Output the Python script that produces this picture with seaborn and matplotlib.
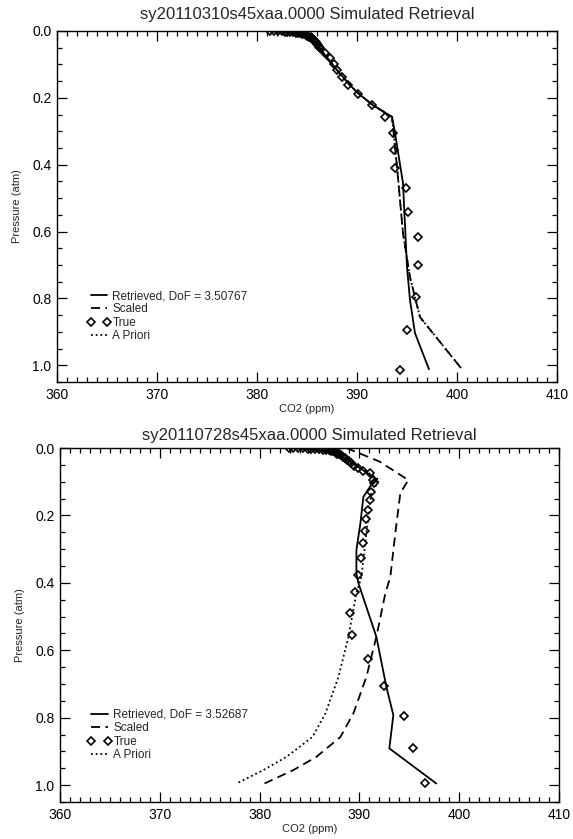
import matplotlib
matplotlib.use("Agg")
import matplotlib.pyplot as plt
import seaborn as sns
from matplotlib.lines import Line2D
from matplotlib.ticker import MultipleLocator

# ---------------- data: panel 1 (sy20110310) ----------------
title1 = "sy20110310s45xaa.0000 Simulated Retrieval"
dof1 = "3.50767"
ret1_p = [0.0, 0.003, 0.008, 0.016, 0.030, 0.057, 0.117, 0.162, 0.186, 0.222, 0.257,
          0.305, 0.455, 0.706, 0.805, 0.904, 1.012]
ret1_c = [382.2, 383.6, 384.5, 385.1, 385.6, 386.4, 388.0, 389.3, 390.1, 391.6, 393.5,
          393.8, 394.6, 395.0, 395.3, 395.8, 397.2]
scl1_p = [0.0, 0.003, 0.008, 0.016, 0.030, 0.057, 0.117, 0.162, 0.186, 0.222, 0.257,
          0.406, 0.605, 0.737, 0.856, 1.012]
scl1_c = [382.2, 383.6, 384.5, 385.1, 385.6, 386.4, 388.0, 389.3, 390.1, 391.6, 393.5,
          394.0, 394.6, 395.3, 396.3, 400.5]
apr1_p = [0.0, 0.003, 0.008, 0.016, 0.030, 0.057, 0.117, 0.162, 0.186, 0.222, 0.257,
          0.406, 0.605, 0.737, 0.856, 1.012]
apr1_c = [382.2, 383.6, 384.5, 385.1, 385.6, 386.4, 388.0, 389.3, 390.1, 391.6, 393.5,
          394.0, 394.6, 395.3, 396.3, 400.5]
tru1_p = [0.0001, 0.0003, 0.0006, 0.001, 0.0015, 0.002, 0.0027, 0.0035, 0.0045, 0.0057,
          0.007, 0.0085, 0.010, 0.012, 0.014, 0.0165, 0.019, 0.022, 0.0255, 0.029,
          0.033, 0.0375, 0.042, 0.047, 0.052, 0.067, 0.082, 0.100, 0.117, 0.137,
          0.162, 0.187, 0.222, 0.257, 0.306, 0.356, 0.411, 0.470, 0.541, 0.616,
          0.700, 0.795, 0.895, 1.015]
tru1_c = [381.3, 381.7, 382.1, 382.5, 382.8, 383.0, 383.3, 383.6, 383.9, 384.1,
          384.3, 384.5, 384.7, 384.9, 385.0, 385.2, 385.35, 385.5, 385.6, 385.75,
          385.85, 385.95, 386.05, 386.15, 386.3, 386.8, 387.3, 387.7, 388.0, 388.5,
          389.1, 390.1, 391.5, 392.8, 393.6, 393.7, 393.8, 394.9, 395.1, 396.1,
          396.1, 395.9, 395.0, 394.3]

# ---------------- data: panel 2 (sy20110728) ----------------
title2 = "sy20110728s45xaa.0000 Simulated Retrieval"
dof2 = "3.52687"
ret2_p = [0.0, 0.004, 0.010, 0.020, 0.035, 0.055, 0.090, 0.145, 0.223, 0.303, 0.372,
          0.401, 0.560, 0.708, 0.792, 0.891, 0.995]
ret2_c = [382.9, 385.0, 386.6, 387.8, 388.8, 389.8, 391.6, 390.4, 390.1, 389.7, 389.7,
          389.9, 391.7, 392.7, 393.4, 393.0, 397.7]
scl2_p = [0.0, 0.040, 0.095, 0.134, 0.252, 0.382, 0.431, 0.560, 0.679, 0.787, 0.857,
          0.916, 0.955, 0.995]
scl2_c = [388.7, 392.0, 394.9, 394.1, 393.6, 393.1, 392.6, 391.7, 390.7, 389.4, 388.1,
          385.7, 383.4, 380.5]
apr2_p = [0.0, 0.040, 0.095, 0.134, 0.252, 0.382, 0.431, 0.560, 0.679, 0.787, 0.857,
          0.916, 0.955, 0.995]
apr2_c = [385.9, 389.2, 392.0, 391.2, 390.7, 390.2, 389.7, 388.9, 387.9, 386.6, 385.3,
          382.7, 380.4, 377.7]
tru2_p = [0.0001, 0.0003, 0.0006, 0.001, 0.0015, 0.002, 0.0027, 0.0035, 0.0045, 0.0057,
          0.007, 0.0085, 0.010, 0.012, 0.014, 0.0165, 0.019, 0.022, 0.026, 0.030,
          0.035, 0.040, 0.045, 0.052, 0.060, 0.067, 0.075, 0.095, 0.105, 0.130,
          0.154, 0.184, 0.212, 0.245, 0.283, 0.327, 0.377, 0.428, 0.488, 0.555,
          0.627, 0.706, 0.794, 0.891, 0.995]
tru2_c = [382.9, 383.3, 383.8, 384.3, 384.8, 385.2, 385.6, 386.0, 386.4, 386.7,
          387.0, 387.2, 387.4, 387.55, 387.65, 387.8, 387.95, 388.15, 388.4, 388.6,
          388.8, 389.0, 389.2, 389.5, 389.9, 390.4, 391.1, 391.4, 391.5, 391.2,
          391.1, 390.9, 390.7, 390.6, 390.4, 390.2, 389.9, 389.6, 389.1, 389.3,
          390.9, 392.5, 394.5, 395.4, 396.6]

x_ticks = [360, 370, 380, 390, 400, 410]
y_ticks = [0.0, 0.2, 0.4, 0.6, 0.8, 1.0]

# ---------------- style ----------------
sns.set_style("ticks")
plt.rcParams['font.family'] = ['Liberation Sans', 'DejaVu Sans']

W, H = 573, 839
fig = plt.figure(figsize=(W / 100, H / 100), dpi=100)

LW = 1.3
DASH = (0, (5, 3))
DOT = (0, (1, 1.6))
MS = 4.5


def panel(rect, title, dof, rp, rc, sp, sc, ap, ac, tp, tc, anchor, tpad):
    ax = fig.add_axes(rect)
    sns.lineplot(x=rc, y=rp, sort=False, estimator=None, color='k', lw=LW, ax=ax)
    sns.lineplot(x=sc, y=sp, sort=False, estimator=None, color='k', lw=LW,
                 linestyle=DASH, ax=ax)
    sns.lineplot(x=ac, y=ap, sort=False, estimator=None, color='k', lw=LW,
                 linestyle=DOT, ax=ax)
    sns.lineplot(x=tc, y=tp, sort=False, estimator=None, color='k', lw=0,
                 linestyle='none', marker='D', markersize=MS,
                 markerfacecolor='none', markeredgecolor='k',
                 markeredgewidth=1.2, ax=ax)
    ax.set_xlim(360, 410)
    ax.set_ylim(1.05, 0.0)
    ax.set_xticks(x_ticks)
    ax.set_xticklabels([str(v) for v in x_ticks])
    ax.set_yticks(y_ticks)
    ax.set_yticklabels([f"{v:.1f}" for v in y_ticks])
    ax.xaxis.set_minor_locator(MultipleLocator(1))
    ax.yaxis.set_minor_locator(MultipleLocator(0.05))
    ax.tick_params(which='both', direction='in', top=True, right=True,
                   width=0.9, colors='k', labelsize=10)
    ax.tick_params(which='major', length=7, pad=4)
    ax.tick_params(which='minor', length=3.5)
    for s in ax.spines.values():
        s.set_linewidth(1.0)
        s.set_color('k')
    ax.set_xlabel("CO2 (ppm)", fontsize=8, labelpad=2)
    ax.set_ylabel("Pressure (atm)", fontsize=8, labelpad=7)
    ax.set_title(title, fontsize=12, pad=tpad)
    handles = [
        Line2D([], [], color='k', lw=LW),
        Line2D([], [], color='k', lw=LW, linestyle=DASH),
        Line2D([], [], color='k', lw=0, linestyle='none', marker='D', markersize=MS,
               markerfacecolor='none', markeredgecolor='k', markeredgewidth=1.2),
        Line2D([], [], color='k', lw=LW, linestyle=DOT),
    ]
    labels = [f"Retrieved, DoF = {dof}", "Scaled", "True", "A Priori"]
    ax.legend(handles, labels, loc='upper left', bbox_to_anchor=anchor,
              frameon=False, fontsize=8.5, numpoints=2, handlelength=2.0,
              handletextpad=0.15, labelspacing=0.12, borderpad=0, borderaxespad=0)
    return ax


ax1 = panel([57 / W, 1 - 382 / H, 500 / W, 351 / H], title1, dof1,
            ret1_p, ret1_c, scl1_p, scl1_c, apr1_p, apr1_c, tru1_p, tru1_c,
            (0.06, 0.262), 9)
ax2 = panel([60 / W, 1 - 802 / H, 499 / W, 354 / H], title2, dof2,
            ret2_p, ret2_c, scl2_p, scl2_c, apr2_p, apr2_c, tru2_p, tru2_c,
            (0.056, 0.263), 6)

fig.savefig("out.png", dpi=100)
